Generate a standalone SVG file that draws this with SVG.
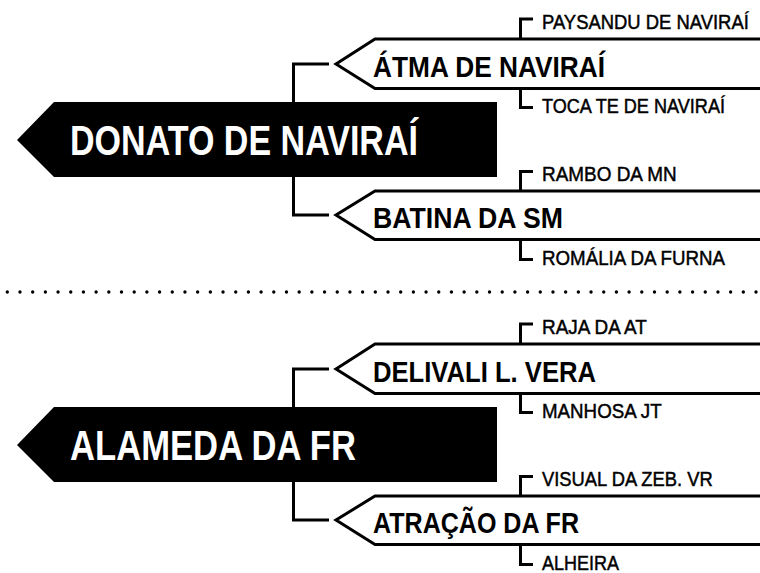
<svg xmlns="http://www.w3.org/2000/svg" width="760" height="573" viewBox="0 0 760 573">
  <style>
    .main{fill:#000}
    .maintxt{font-family:"Liberation Sans Narrow","Liberation Sans",Arial,sans-serif;font-weight:bold;font-size:42px;fill:#fff}
    .node{fill:#fff;stroke:#000;stroke-width:3}
    .nodetxt{font-family:"Liberation Sans Narrow","Liberation Sans",Arial,sans-serif;font-weight:bold;font-size:29px;fill:#000}
    .subtxt{font-family:"Liberation Sans Narrow","Liberation Sans",Arial,sans-serif;font-size:20px;fill:#000;stroke:#000;stroke-width:0.45}
    .conn{fill:none;stroke:#000;stroke-width:3}
    .dots{stroke:#000;stroke-width:3.4;stroke-linecap:round;stroke-dasharray:0 12.69}
  </style>
  <rect width="760" height="573" fill="#fff"/>

  <!-- Section 1 -->
  <g id="section1">
    <g id="connectors1">
      <path class="conn" d="M329 64 H293.5 V104"/>
      <path class="conn" d="M329 215 H293.5 V175"/>
      <path class="conn" d="M533 19 H520.5 V39"/>
      <path class="conn" d="M533 107.5 H520.5 V88"/>
      <path class="conn" d="M533 171.5 H520.5 V191"/>
      <path class="conn" d="M533 259.5 H520.5 V239"/>
    </g>
    <g id="donato">
      <polygon class="main" points="17,140 54,102 497,102 497,177 54,177"/>
      <text class="maintxt" x="70" y="155" textLength="348" lengthAdjust="spacingAndGlyphs">DONATO DE NAVIRAÍ</text>
    </g>
    <g id="atma">
      <polyline class="node" points="765,39 375,39 336,64 375,88.5 765,88.5"/>
      <text class="nodetxt" x="373" y="77" textLength="232" lengthAdjust="spacingAndGlyphs">ÁTMA DE NAVIRAÍ</text>
    </g>
    <g id="paysandu" transform="translate(542,28.5) scale(0.88,1.05)">
      <text class="subtxt" x="0" y="0" textLength="235" lengthAdjust="spacingAndGlyphs">PAYSANDU DE NAVIRAÍ</text>
    </g>
    <g id="toca" transform="translate(542,112.5) scale(0.88,1.05)">
      <text class="subtxt" x="0" y="0" textLength="208" lengthAdjust="spacingAndGlyphs">TOCA TE DE NAVIRAÍ</text>
    </g>
    <g id="batina">
      <polyline class="node" points="765,191 375,191 336,215 375,239.5 765,239.5"/>
      <text class="nodetxt" x="373" y="228" textLength="190" lengthAdjust="spacingAndGlyphs">BATINA DA SM</text>
    </g>
    <g id="rambo" transform="translate(542,181) scale(0.88,1.05)">
      <text class="subtxt" x="0" y="0" textLength="153" lengthAdjust="spacingAndGlyphs">RAMBO DA MN</text>
    </g>
    <g id="romalia" transform="translate(542,265) scale(0.88,1.05)">
      <text class="subtxt" x="0" y="0" textLength="208" lengthAdjust="spacingAndGlyphs">ROMÁLIA DA FURNA</text>
    </g>
  </g>

  <line class="dots" x1="7.3" y1="292" x2="757" y2="292"/>

  <!-- Section 2 -->
  <g id="section2" transform="translate(0,305)">
    <g id="connectors2">
      <path class="conn" d="M329 64 H293.5 V104"/>
      <path class="conn" d="M329 215 H293.5 V175"/>
      <path class="conn" d="M533 19 H520.5 V39"/>
      <path class="conn" d="M533 107.5 H520.5 V88"/>
      <path class="conn" d="M533 171.5 H520.5 V191"/>
      <path class="conn" d="M533 259.5 H520.5 V239"/>
    </g>
    <g id="alameda">
      <polygon class="main" points="17,140 54,102 497,102 497,177 54,177"/>
      <text class="maintxt" x="70" y="155" textLength="286" lengthAdjust="spacingAndGlyphs">ALAMEDA DA FR</text>
    </g>
    <g id="delivali">
      <polyline class="node" points="765,39 375,39 336,64 375,88.5 765,88.5"/>
      <text class="nodetxt" x="373" y="77" textLength="223" lengthAdjust="spacingAndGlyphs">DELIVALI L. VERA</text>
    </g>
    <g id="raja" transform="translate(542,28.5) scale(0.88,1.05)">
      <text class="subtxt" x="0" y="0" textLength="119" lengthAdjust="spacingAndGlyphs">RAJA DA AT</text>
    </g>
    <g id="manhosa" transform="translate(542,112.5) scale(0.88,1.05)">
      <text class="subtxt" x="0" y="0" textLength="136" lengthAdjust="spacingAndGlyphs">MANHOSA JT</text>
    </g>
    <g id="atracao">
      <polyline class="node" points="765,191 375,191 336,215 375,239.5 765,239.5"/>
      <text class="nodetxt" x="373" y="228" textLength="206" lengthAdjust="spacingAndGlyphs">ATRAÇÃO DA FR</text>
    </g>
    <g id="visual" transform="translate(542,181) scale(0.88,1.05)">
      <text class="subtxt" x="0" y="0" textLength="194" lengthAdjust="spacingAndGlyphs">VISUAL DA ZEB. VR</text>
    </g>
    <g id="alheira" transform="translate(542,265) scale(0.88,1.05)">
      <text class="subtxt" x="0" y="0" textLength="87.5" lengthAdjust="spacingAndGlyphs">ALHEIRA</text>
    </g>
  </g>
</svg>
